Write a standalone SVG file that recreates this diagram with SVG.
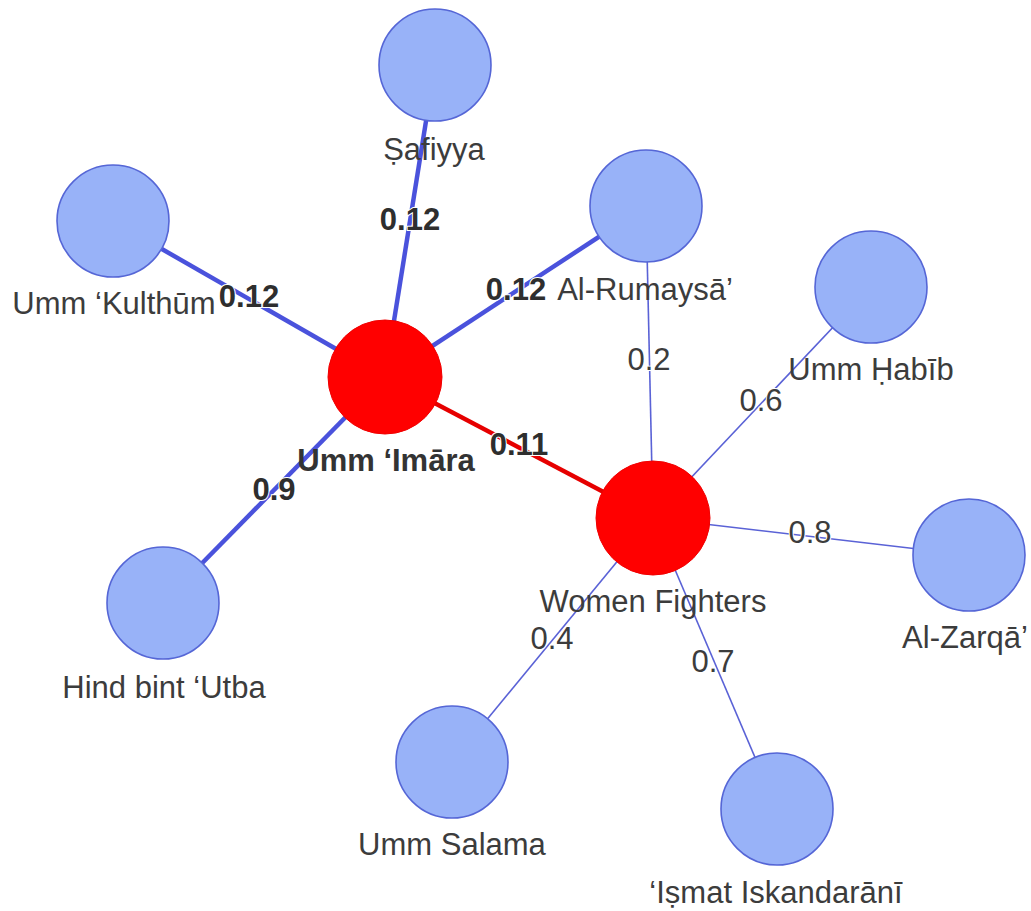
<svg xmlns="http://www.w3.org/2000/svg" width="1031" height="911" viewBox="0 0 1031 911">
<style>
.bg{fill:#ffffff}
.e-thick{stroke:#4a52dc;stroke-width:4.5;fill:none}
.e-red{stroke:#e60000;stroke-width:4.5;fill:none}
.e-thin{stroke:#5a62d6;stroke-width:1.6;fill:none}
.n-blue{fill:#98b2f8;stroke:#5566d6;stroke-width:1.6}
.n-red{fill:#ff0000;stroke:#f00000;stroke-width:1}
.lbl{font-family:"Liberation Sans",Arial,sans-serif;font-size:31px;fill:#3c3c3c;text-anchor:middle}
.lbl-b{font-weight:bold;fill:#333333}
.el{font-family:"Liberation Sans",Arial,sans-serif;font-size:31px;fill:#3c3c3c;text-anchor:middle;stroke:#ffffff;stroke-width:2;paint-order:stroke}
.el-b{font-weight:bold;fill:#2e2e2e}
</style>
<rect class="bg" x="0" y="0" width="1031" height="911"/>
<g id="connectors">
  <line class="e-thick" x1="385" y1="377" x2="435" y2="65"/>
  <line class="e-thick" x1="385" y1="377" x2="113" y2="221"/>
  <line class="e-thick" x1="385" y1="377" x2="646" y2="206"/>
  <line class="e-thick" x1="385" y1="377" x2="163" y2="603"/>
  <line class="e-red" x1="385" y1="377" x2="653" y2="518"/>
  <line class="e-thin" x1="653" y1="518" x2="646" y2="206"/>
  <line class="e-thin" x1="653" y1="518" x2="871" y2="287"/>
  <line class="e-thin" x1="653" y1="518" x2="969" y2="555"/>
  <line class="e-thin" x1="653" y1="518" x2="777" y2="809"/>
  <line class="e-thin" x1="653" y1="518" x2="452" y2="762"/>
  <text class="el el-b" x="410" y="230">0.12</text>
  <text class="el el-b" x="249" y="307">0.12</text>
  <text class="el el-b" x="516" y="300">0.12</text>
  <text class="el el-b" x="274" y="500">0.9</text>
  <text class="el el-b" x="519" y="455">0.11</text>
  <text class="el" x="649" y="370">0.2</text>
  <text class="el" x="761" y="411">0.6</text>
  <text class="el" x="810" y="543">0.8</text>
  <text class="el" x="552" y="649">0.4</text>
  <text class="el" x="713" y="672">0.7</text>
</g>
<g id="node-safiyya">
  <circle class="n-blue" cx="435" cy="65" r="56"/>
  <text class="lbl" x="434" y="160">Ṣafiyya</text>
</g>
<g id="node-kulthum">
  <circle class="n-blue" cx="113" cy="221" r="56"/>
  <text class="lbl" x="114" y="314">Umm ‘Kulthūm</text>
</g>
<g id="node-rumaysa">
  <circle class="n-blue" cx="646" cy="206" r="56"/>
  <text class="lbl" x="645" y="300">Al-Rumaysā’</text>
</g>
<g id="node-habib">
  <circle class="n-blue" cx="871" cy="287" r="56"/>
  <text class="lbl" x="871" y="380">Umm Ḥabīb</text>
</g>
<g id="node-imara">
  <circle class="n-red" cx="385" cy="377" r="57"/>
  <text class="lbl lbl-b" x="386" y="471">Umm ‘Imāra</text>
</g>
<g id="node-women-fighters">
  <circle class="n-red" cx="653" cy="518" r="57"/>
  <text class="lbl" x="653" y="612">Women Fighters</text>
</g>
<g id="node-zarqa">
  <circle class="n-blue" cx="969" cy="555" r="56"/>
  <text class="lbl" x="965" y="648">Al-Zarqā’</text>
</g>
<g id="node-hind">
  <circle class="n-blue" cx="163" cy="603" r="56"/>
  <text class="lbl" x="164" y="698">Hind bint ‘Utba</text>
</g>
<g id="node-salama">
  <circle class="n-blue" cx="452" cy="762" r="56"/>
  <text class="lbl" x="452" y="855">Umm Salama</text>
</g>
<g id="node-ismat">
  <circle class="n-blue" cx="777" cy="809" r="56"/>
  <text class="lbl" x="776" y="903">‘Iṣmat Iskandarānī</text>
</g>
</svg>
